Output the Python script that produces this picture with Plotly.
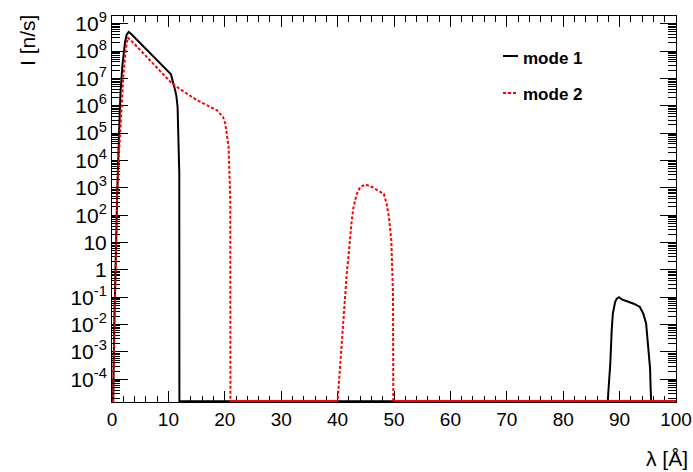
import plotly.graph_objects as go

# ---------------- data ----------------
mode1_x = [0, 0.2, 0.4, 0.7, 0.95, 1.25, 1.5, 1.85, 2.3, 2.6, 2.95, 3.4, 6.5,
           10.46, 11.05, 11.4, 11.63, 11.8, 11.93, 11.95,
           87.9, 88.06, 88.35, 88.6, 88.8, 89.2, 89.5, 89.9, 90.4, 91.3, 92.5,
           93.6, 94.2, 94.7, 95.1, 95.4, 95.5, 95.6, 100]
mode1_y = [0, 0, 1e-2, 10, 1e3, 1e5, 3e6, 3e7, 2e8, 4e8, 5e8, 4.2e8, 9.1e7,
           1.4e7, 4.8e6, 2.4e6, 9e5, 9.5e4, 3.4e3, 0,
           0, 5.1e-5, 3.7e-4, 6.2e-3, 2.5e-2, 6.6e-2, 8.9e-2, 0.1, 8.3e-2, 7.1e-2, 5.8e-2,
           4.4e-2, 2.5e-2, 1.1e-2, 1.5e-3, 2.5e-4, 5.1e-5, 0, 0]

mode2_x = [0, 0.2, 0.35, 0.5, 0.7, 0.9, 1.2, 1.45, 1.75, 2.0, 2.4, 2.77, 3.5,
           7.38, 10.64, 13.0, 15.07, 18.62, 19.68, 20.09, 20.39, 20.67, 20.97, 21.0,
           40.0, 40.3, 40.54, 40.84, 41.14, 41.32, 41.62, 41.92, 42.22, 42.51,
           42.81, 43.41, 44.01, 44.91, 46.11, 47.6, 48.2, 48.68, 49.1, 49.52,
           49.7, 49.82, 49.88, 100]
mode2_y = [0, 0, 1e-3, 0.1, 10, 5e2, 1.3e4, 1e5, 1.6e6, 1.1e7, 1e8, 3.1e8, 2.3e8,
           3.2e7, 6.5e6, 3.0e6, 1.6e6, 6.8e5, 3.9e5, 2.2e5, 7.1e4, 3.1e4, 3.5e2, 0,
           0, 1.2e-4, 6.5e-4, 4.7e-3, 1.9e-2, 0.13, 0.72, 3.0, 16, 65,
           195, 600, 1070, 1320, 1070, 690, 600, 260, 85, 12,
           1.26, 0.135, 0, 0]

series_names = ["mode 1", "mode 2"]
x_tick_values = [0, 10, 20, 30, 40, 50, 60, 70, 80, 90, 100]
x_tick_labels = ["0", "10", "20", "30", "40", "50", "60", "70", "80", "90", "100"]
y_tick_values = [1e-4, 1e-3, 1e-2, 1e-1, 1, 10, 1e2, 1e3, 1e4, 1e5, 1e6, 1e7, 1e8, 1e9]
y_tick_labels = ["10<sup>-4</sup>", "10<sup>-3</sup>", "10<sup>-2</sup>", "10<sup>-1</sup>",
                 "1", "10", "10<sup>2</sup>", "10<sup>3</sup>", "10<sup>4</sup>",
                 "10<sup>5</sup>", "10<sup>6</sup>", "10<sup>7</sup>", "10<sup>8</sup>",
                 "10<sup>9</sup>"]
x_title = "λ [Å]"
y_title = "I [n/s]"

# ---------------- layout constants ----------------
W, H = 693, 472
ML, MR, MT, MB = 112, 17, 16, 70
PW, PH = W - ML - MR, H - MT - MB
Y_LOG_RANGE = [-4.83, 9.28]
FLOOR = 10 ** (Y_LOG_RANGE[0] + 0.03)   # empty bins drawn on the bottom frame
FONT = "Liberation Sans, Arial, Helvetica, sans-serif"


def pxx(x):
    return (x - ML) / PW


def pxy(y):
    return (H - MB - y) / PH


def floored(vals):
    return [v if v > 0 else FLOOR for v in vals]


fig = go.Figure()
fig.add_trace(go.Scatter(x=mode1_x, y=floored(mode1_y), mode="lines", name=series_names[0],
                         line=dict(color="black", width=2), showlegend=False, hoverinfo="skip"))
# empty bins of mode 2 lie on the frame as a continuous red line
fig.add_trace(go.Scatter(x=mode2_x, y=[FLOOR if v == 0 else None for v in mode2_y], mode="lines",
                         line=dict(color="#ff0000", width=2.5), connectgaps=False,
                         showlegend=False, hoverinfo="skip"))
fig.add_trace(go.Scatter(x=mode2_x, y=floored(mode2_y), mode="lines", name=series_names[1],
                         line=dict(color="#ff0000", width=2, dash="3px,2px"),
                         showlegend=False, hoverinfo="skip"))

axis_common = dict(showline=True, linecolor="black", linewidth=1, mirror="ticks",
                   ticks="inside", tickcolor="black", tickwidth=1, showgrid=False,
                   zeroline=False, automargin=False)

fig.update_xaxes(range=[0, 100], tickmode="array", tickvals=x_tick_values, ticktext=x_tick_labels,
                 ticklen=11, layer="below traces",
                 tickfont=dict(family=FONT, size=19, color="black"),
                 minor=dict(ticks="inside", ticklen=6, dtick=2, tickcolor="black", showgrid=False),
                 **axis_common)
fig.update_yaxes(type="log", range=Y_LOG_RANGE, tickmode="array", tickvals=y_tick_values,
                 ticktext=y_tick_labels, ticklen=16, layer="below traces",
                 tickfont=dict(family=FONT, size=21, color="black"),
                 minor=dict(ticks="inside", ticklen=8, dtick="D1", tickcolor="black", showgrid=False),
                 **axis_common)

annotations = [
    dict(text=y_title, xref="paper", yref="paper", x=pxx(27), y=pxy(41), textangle=-90,
         showarrow=False, xanchor="center", yanchor="middle",
         font=dict(family=FONT, size=21, color="black")),
    dict(text=x_title, xref="paper", yref="paper", x=pxx(690), y=pxy(458), showarrow=False,
         xanchor="right", yanchor="middle", font=dict(family=FONT, size=21, color="black")),
    dict(text="<b>" + series_names[0] + "</b>", xref="paper", yref="paper", x=pxx(521), y=pxy(58),
         showarrow=False, xanchor="left", yanchor="middle",
         font=dict(family=FONT, size=17, color="black")),
    dict(text="<b>" + series_names[1] + "</b>", xref="paper", yref="paper", x=pxx(521), y=pxy(95),
         showarrow=False, xanchor="left", yanchor="middle",
         font=dict(family=FONT, size=17, color="black")),
]
shapes = [
    dict(type="line", xref="paper", yref="paper", x0=pxx(503), x1=pxx(518), y0=pxy(56), y1=pxy(56),
         line=dict(color="black", width=2)),
    dict(type="line", xref="paper", yref="paper", x0=pxx(503), x1=pxx(518), y0=pxy(93), y1=pxy(93),
         line=dict(color="#ff0000", width=2, dash="3px,2px")),
]

fig.update_layout(width=W, height=H, margin=dict(l=ML, r=MR, t=MT, b=MB, pad=0),
                  paper_bgcolor="white", plot_bgcolor="white",
                  annotations=annotations, shapes=shapes, showlegend=False,
                  font=dict(family=FONT, color="black"))

fig.write_html("out.html", config={"displayModeBar": False, "staticPlot": True},
               post_script="document.body.style.margin='0';document.body.style.overflow='hidden';")
